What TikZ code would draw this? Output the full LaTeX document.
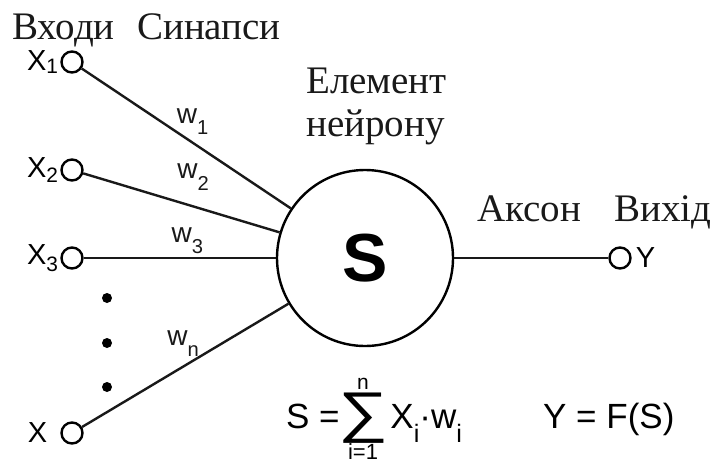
\documentclass[tikz,border=0pt]{standalone}
\usepackage{fontspec}
\setmainfont{Liberation Serif}
\setsansfont{Liberation Sans}
\usetikzlibrary{positioning}

\newcommand{\lowidx}[2][0.4em]{\raisebox{-#1}{\scalebox{0.72}{#2}}}

\begin{document}
\begin{tikzpicture}[x=1pt, y=-1pt,
    inport/.style={circle, draw, line width=2.4pt, minimum size=21pt, inner sep=0pt},
    neuron/.style={circle, draw, line width=2.4pt, minimum size=176pt, inner sep=0pt, font=\sffamily\bfseries\fontsize{68}{68}\selectfont},
    caption/.style={font=\fontsize{39}{43}\selectfont, text=black!90, inner sep=0pt},
    sig/.style={font=\sffamily\fontsize{29}{29}\selectfont, inner sep=1pt},
    wlabel/.style={font=\sffamily\fontsize{28}{28}\selectfont, inner sep=1pt},
    formula/.style={font=\sffamily\fontsize{35}{35}\selectfont, inner sep=0pt},
    wire/.style={line width=2.4pt, black!90}
  ]
    \useasboundingbox (0,0) rectangle (714,466);

    % inputs, neuron and output
    \node[inport] (x1) at (72,62) {};
    \node[inport] (x2) at (72,170) {};
    \node[inport] (x3) at (72,258) {};
    \node[inport] (xn) at (72,433) {};
    \node[neuron] (soma) at (365,258) {S};
    \node[inport] (yout) at (620,258) {};

    \node[sig, left=1pt of x1] (lx1) {X\lowidx[0.1em]{1}};
    \node[sig, left=1pt of x2] (lx2) {X\lowidx[0.2em]{2}};
    \node[sig, left=1pt of x3] (lx3) {X\lowidx[0.25em]{3}};
    \node[sig, left=12pt of xn] (lxn) {X};
    \node[sig, right=3pt of yout] (ly) {Y};

    \foreach \d in {298,343,387}
      \fill (107,\d) circle (5pt);

    % synapses
    \draw[wire] (x1) -- node[wlabel, pos=0.53, above=6pt] (w1) {w\lowidx{1}} (soma);
    \draw[wire] (x2) -- node[wlabel, pos=0.56, above=14pt] (w2) {w\lowidx{2}} (soma);
    \draw[wire] (x3) -- node[wlabel, pos=0.54, above=2pt] (w3) {w\lowidx{3}} (soma);
    \draw[wire] (xn) -- node[wlabel, pos=0.49, above=8pt] (wn) {w\lowidx{n}} (soma);
    \draw[wire] (soma) -- (yout);

    % captions
    \node[caption, anchor=base west] (inputs) at (12,39) {Входи};
    \node[caption, anchor=base west] (synapses) at (137,39) {Синапси};
    \node[caption, anchor=north west, align=left] (element) at (306,68) {Елемент\\нейрону};
    \node[caption, anchor=base west] (axon) at (477,221) {Аксон};
    \node[caption, anchor=base west] (output) at (614,221) {Вихід};

    % formulas
    \node[formula, anchor=base west] (sumeq) at (286,428) {S =};
    \node[formula, font=\sffamily\fontsize{56}{56}\selectfont, anchor=base west] (sigma) at ([xshift=-2pt, yshift=-3.5pt]sumeq.base east) {\scalebox{1.25}[1]{∑}};
    \node[formula, font=\sffamily\fontsize{21}{21}\selectfont, above=3pt of sigma] (sumtop) {n};
    \node[formula, font=\sffamily\fontsize{22}{22}\selectfont, below=0pt of sigma] (sumbot) {i=1};
    \node[formula, anchor=base west] (terms) at ([xshift=2pt]sumeq.base east -| sigma.east) {X\lowidx[0.42em]{i}·w\lowidx[0.42em]{i}};
    \node[formula, anchor=base west] (yeq) at (543,428) {Y = F(S)};
\end{tikzpicture}
\end{document}
